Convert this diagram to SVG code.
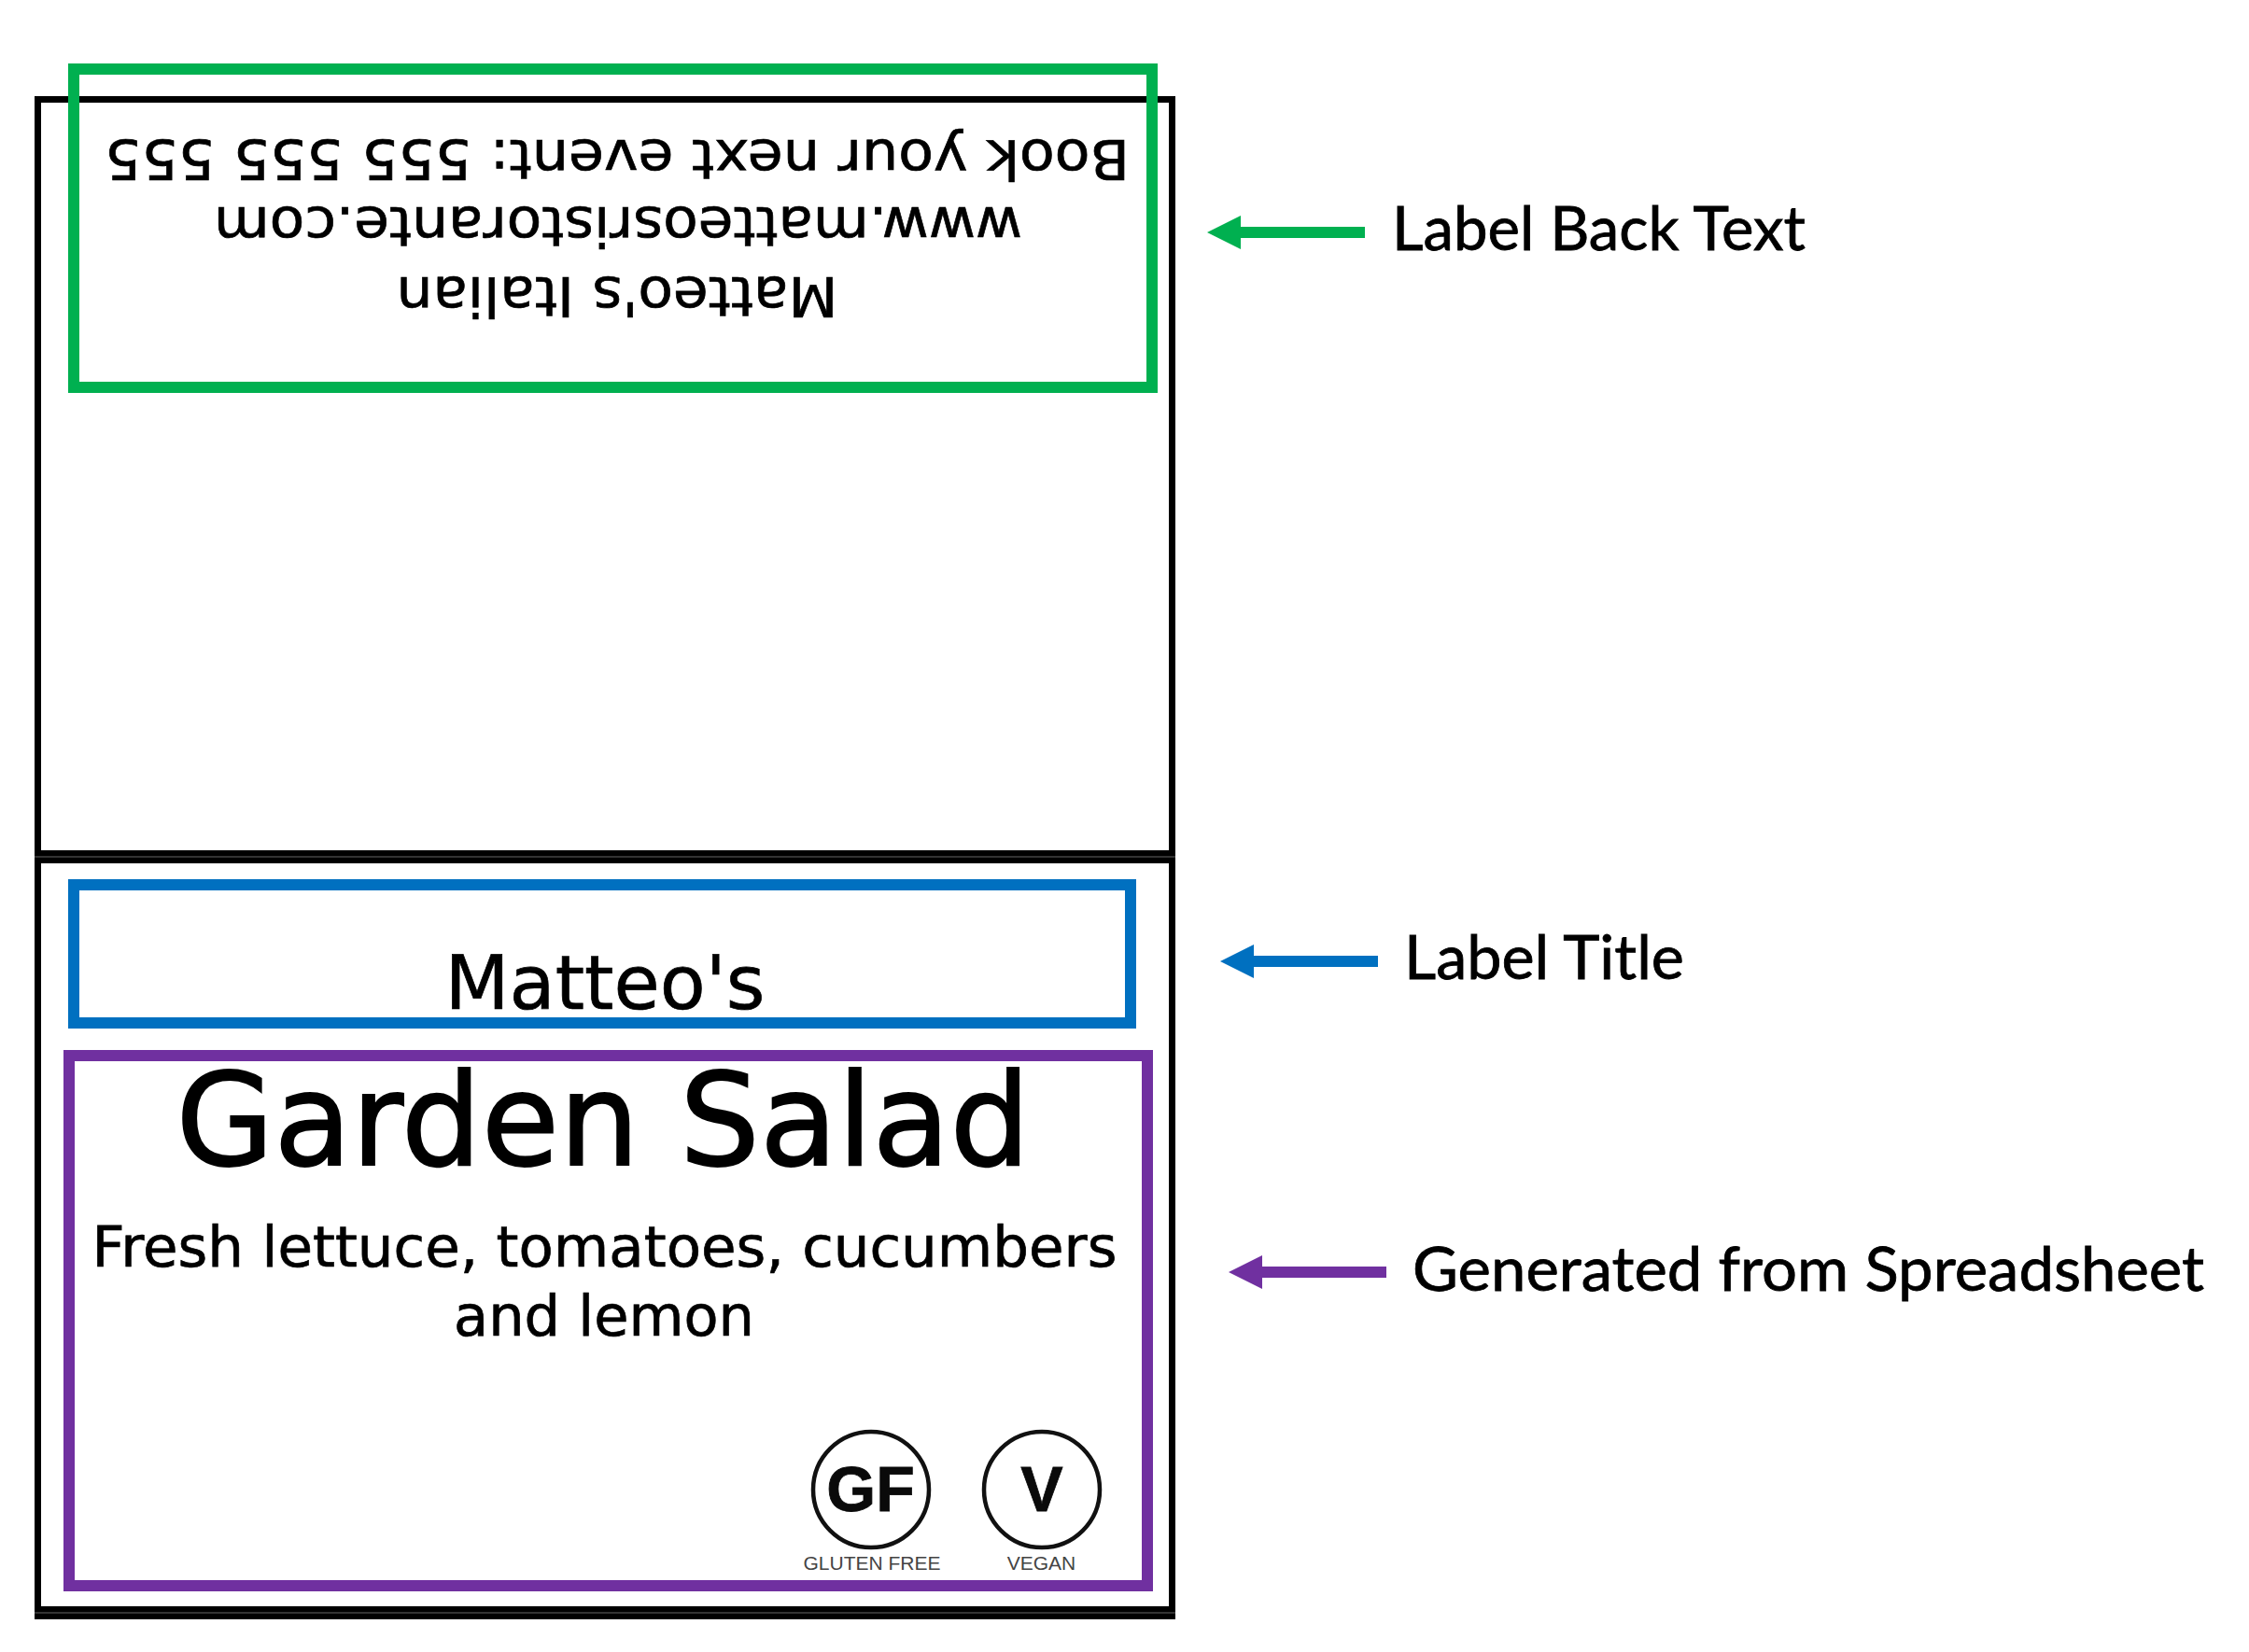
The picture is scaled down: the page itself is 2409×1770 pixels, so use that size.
<svg xmlns="http://www.w3.org/2000/svg" width="2409" height="1770" viewBox="0 0 2409 1770">
<style>
.frame{fill:none;stroke:#000;stroke-width:7}
.seam{stroke:#444;stroke-width:1.5}
.box{fill:none;stroke-width:12}
.t{font-family:"DejaVu Sans",Verdana,sans-serif;fill:#000;stroke:#000;stroke-width:.7;text-anchor:middle}
.lab{font-family:Lato,"Open Sans",sans-serif;font-size:66px;fill:#000;stroke:#000;stroke-width:.8}
.ico{font-family:"Liberation Sans",Arial,sans-serif;text-anchor:middle}
.shaft{stroke-width:12;fill:none}
circle{fill:none;stroke:#111;stroke-width:4.5}
</style>
<defs>
<marker id="hg" markerUnits="userSpaceOnUse" markerWidth="36" markerHeight="36" refX="0" refY="18" orient="auto"><path d="M0 0L36 18L0 36Z" fill="#00B050"/></marker>
<marker id="hb" markerUnits="userSpaceOnUse" markerWidth="36" markerHeight="36" refX="0" refY="18" orient="auto"><path d="M0 0L36 18L0 36Z" fill="#0070C0"/></marker>
<marker id="hp" markerUnits="userSpaceOnUse" markerWidth="36" markerHeight="36" refX="0" refY="18" orient="auto"><path d="M0 0L36 18L0 36Z" fill="#7030A0"/></marker>
</defs>
<rect width="2409" height="1770" fill="#fff"/>
<g id="label-back">
<rect class="frame" x="40.5" y="106.5" width="1215" height="808"/>
<g transform="rotate(180 0 0)">
<text class="t" font-size="59" x="-661" y="-150" textLength="1098" lengthAdjust="spacingAndGlyphs">Book your next event: 555 555 555</text>
<text class="t" font-size="59" x="-662" y="-222" textLength="866" lengthAdjust="spacingAndGlyphs">www.matteosristorante.com</text>
<text class="t" font-size="59" x="-661" y="-297" textLength="473" lengthAdjust="spacingAndGlyphs">Matteo's Italian</text>
</g>
</g>
<g id="label-front">
<rect class="frame" x="40.5" y="921.5" width="1215" height="810"/>
<rect class="frame" x="40.5" y="921.5" width="1215" height="803"/>
<line class="seam" x1="37" y1="918" x2="1259" y2="918"/>
<line class="seam" x1="37" y1="1728" x2="1259" y2="1728"/>
<text class="t" font-size="81" x="648" y="1081" textLength="343" lengthAdjust="spacingAndGlyphs" stroke-width="1">Matteo's</text>
<text class="t" font-size="137" x="646" y="1248" textLength="915" lengthAdjust="spacingAndGlyphs" style="stroke-width:1.8">Garden Salad</text>
<text class="t" font-size="60" x="647.5" y="1357" textLength="1098" lengthAdjust="spacingAndGlyphs">Fresh lettuce, tomatoes, cucumbers</text>
<text class="t" font-size="60" x="647" y="1431" textLength="322" lengthAdjust="spacingAndGlyphs">and lemon</text>
</g>
<g id="icon-gf">
<circle cx="933" cy="1596" r="62"/>
<text class="ico" font-size="68" font-weight="700" x="932.5" y="1619" fill="#0a0a0a" stroke="#0a0a0a" stroke-width=".8">GF</text>
<text class="ico" font-size="21" x="934" y="1682" fill="#444">GLUTEN FREE</text>
</g>
<g id="icon-v">
<circle cx="1116" cy="1596" r="62"/>
<text class="ico" font-size="68" font-weight="700" x="1116" y="1619" fill="#0a0a0a" stroke="#0a0a0a" stroke-width=".8">V</text>
<text class="ico" font-size="21" x="1115.5" y="1682" fill="#444">VEGAN</text>
</g>
<g id="box-back"><rect class="box" stroke="#00B050" x="79" y="74" width="1155" height="341"/></g>
<g id="box-title"><rect class="box" stroke="#0070C0" x="79" y="948" width="1132" height="148"/></g>
<g id="box-generated"><rect class="box" stroke="#7030A0" x="74" y="1131" width="1155" height="568"/></g>
<g id="connectors">
<line class="shaft" stroke="#00B050" x1="1462" y1="249" x2="1329" y2="249" marker-end="url(#hg)"/>
<line class="shaft" stroke="#0070C0" x1="1476" y1="1030" x2="1343" y2="1030" marker-end="url(#hb)"/>
<line class="shaft" stroke="#7030A0" x1="1485" y1="1363" x2="1352" y2="1363" marker-end="url(#hp)"/>
</g>
<g id="callouts">
<text class="lab" x="1491" y="268" textLength="443" lengthAdjust="spacingAndGlyphs">Label Back Text</text>
<text class="lab" x="1504" y="1049" textLength="300" lengthAdjust="spacingAndGlyphs">Label Title</text>
<text class="lab" x="1513" y="1383" textLength="848" lengthAdjust="spacingAndGlyphs">Generated from Spreadsheet</text>
</g>
</svg>
